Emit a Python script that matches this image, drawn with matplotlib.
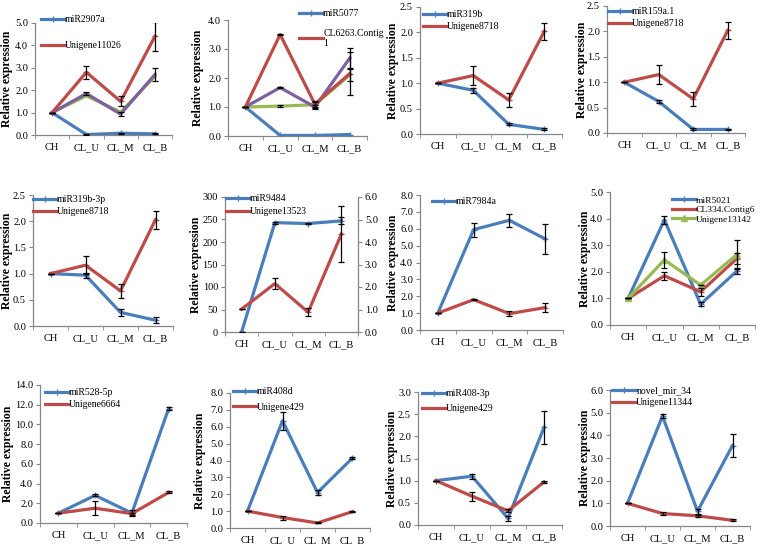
import matplotlib
matplotlib.use("Agg")
import matplotlib.pyplot as plt
import matplotlib.transforms as mtransforms
from matplotlib.ticker import FormatStrFormatter, FixedLocator

plt.rcParams['font.family'] = ['Liberation Serif', 'DejaVu Serif']

categories = ["CH", "CL_U", "CL_M", "CL_B"]

BLUE = "#4A7EBB"
RED = "#BE4B48"
GREEN = "#98B954"
PURPLE = "#7D60A0"

# Panel 1
p1_blue = [1.0, 0.02, 0.08, 0.05]
p1_blue_err = [0, 0.01, 0.02, 0.02]
p1_red = [1.0, 2.8, 1.5, 4.4]
p1_red_err = [0, 0.3, 0.22, 0.65]
p1_green = [1.0, 1.75, 1.02, 2.62]
p1_purple = [1.0, 1.85, 0.93, 2.7]
p1_purple_err = [0, 0.08, 0.08, 0.3]
# Panel 2
p2_blue = [1.0, 0.02, 0.02, 0.05]
p2_red = [1.0, 3.5, 1.1, 2.15]
p2_red_err = [0, 0.02, 0.1, 0.75]
p2_purple = [1.0, 1.67, 1.0, 2.68]
p2_purple_err = [0, 0.03, 0.08, 0.35]
p2_green = [1.0, 1.03, 1.08, 2.1]
p2_green_err = [0, 0.03, 0.1, 0.2]
# Panel 3
p3_blue = [1.0, 0.86, 0.19, 0.09]
p3_blue_err = [0, 0.05, 0.02, 0.02]
p3_red = [1.0, 1.15, 0.67, 2.02]
p3_red_err = [0, 0.18, 0.13, 0.17]
# Panel 4
p4_blue = [1.0, 0.62, 0.07, 0.07]
p4_blue_err = [0, 0.03, 0.02, 0.01]
p4_red = [1.0, 1.15, 0.67, 2.02]
p4_red_err = [0, 0.18, 0.13, 0.17]
# Panel 5
p5_blue = [1.0, 0.97, 0.26, 0.11]
p5_blue_err = [0, 0.05, 0.06, 0.06]
p5_red = [1.0, 1.16, 0.67, 2.03]
p5_red_err = [0, 0.17, 0.13, 0.17]
# Panel 6 (blue on left axis, red on right axis)
p6_blue = [0, 243, 241, 247]
p6_blue_err = [0, 2, 2, 8]
p6_red = [1.02, 2.15, 0.88, 4.35]
p6_red_err = [0, 0.25, 0.18, 1.25]
# Panel 7
p7_blue = [1.0, 5.95, 6.5, 5.4]
p7_blue_err = [0, 0.42, 0.37, 0.9]
p7_red = [1.0, 1.8, 0.97, 1.33]
p7_red_err = [0, 0.02, 0.15, 0.25]
# Panel 8
p8_blue = [1.0, 3.95, 0.78, 2.03]
p8_blue_err = [0, 0.15, 0.08, 0.1]
p8_red = [1.0, 1.85, 1.25, 2.5]
p8_red_err = [0, 0.15, 0.15, 0.2]
p8_green = [1.0, 2.45, 1.5, 2.65]
p8_green_err = [0, 0.3, 0.0, 0.55]
# Panel 9
p9_blue = [1.0, 2.8, 1.0, 11.6]
p9_blue_err = [0, 0.1, 0.3, 0.15]
p9_red = [1.0, 1.5, 0.95, 3.1]
p9_red_err = [0, 0.7, 0.1, 0.1]
# Panel 10
p10_blue = [1.0, 6.35, 2.1, 4.15]
p10_blue_err = [0, 0.55, 0.15, 0.05]
p10_red = [1.0, 0.62, 0.3, 0.97]
p10_red_err = [0, 0.12, 0.03, 0.05]
# Panel 11
p11_blue = [1.0, 1.1, 0.15, 2.2]
p11_blue_err = [0, 0.06, 0.06, 0.38]
p11_red = [1.0, 0.65, 0.32, 0.97]
p11_red_err = [0, 0.1, 0.03, 0.03]
# Panel 12
p12_blue = [1.0, 4.85, 0.65, 3.55]
p12_blue_err = [0, 0.1, 0.1, 0.5]
p12_red = [1.0, 0.55, 0.45, 0.25]
p12_red_err = [0, 0.06, 0.05, 0.05]

W, H = 760, 545
fig = plt.figure(figsize=(W / 100, H / 100), dpi=100)
xs = list(range(len(categories)))


def make_ax(left, right, top, bottom, ymax, ystep, label_x, fmt="%.1f"):
    ax = fig.add_axes([left / W, 1 - bottom / H, (right - left) / W, (bottom - top) / H])
    ax.set_xlim(-0.5, 3.5)
    ax.set_ylim(0, ymax)
    n = int(round(ymax / ystep))
    ax.yaxis.set_major_locator(FixedLocator([i * ystep for i in range(n + 1)]))
    ax.yaxis.set_major_formatter(FormatStrFormatter(fmt))
    ax.set_xticks(xs)
    ax.set_xticklabels(categories)
    ax.set_xticks([-0.5, 0.5, 1.5, 2.5, 3.5], minor=True)
    ax.tick_params(axis='x', which='major', length=0, pad=6, labelsize=7.5)
    ax.tick_params(axis='x', which='minor', length=3, direction='out', color='#868686')
    ax.tick_params(axis='y', length=3, direction='out', color='#868686', labelsize=7.5, pad=2)
    for s in ['top', 'right']:
        ax.spines[s].set_visible(False)
    for s in ['left', 'bottom']:
        ax.spines[s].set_color('#868686')
        ax.spines[s].set_linewidth(0.9)
    ax.set_ylabel("Relative expression", fontsize=8.5, fontweight='bold')
    tr = mtransforms.blended_transform_factory(fig.transFigure, ax.transAxes)
    ax.yaxis.set_label_coords((label_x + 6) / W, 0.5, transform=tr)
    ax.patch.set_alpha(0)
    return ax


def series(ax, y, err, color, label, marker):
    line, = ax.plot(xs, y, color=color, lw=2.3, marker=marker, ms=4, mew=1, label=label, zorder=3)
    if err is not None:
        ax.errorbar(xs, y, yerr=err, fmt='none', ecolor='black', elinewidth=0.9,
                    capsize=2.5, capthick=0.9, zorder=4)
    return line


def legend(handles, x_px, y_px, spacing=0.25, fs=7.0):
    fig.legend(handles=handles, loc='upper left',
               bbox_to_anchor=(x_px / W, 1 - y_px / H), bbox_transform=fig.transFigure,
               frameon=False, fontsize=fs, handlelength=2.5, handletextpad=0.0,
               borderpad=0, borderaxespad=0, labelspacing=spacing)


# Panel 1
ax = make_ax(35, 172, 23, 135, 5.0, 1.0, 7)
b = series(ax, p1_blue, p1_blue_err, BLUE, "miR2907a", '+')
series(ax, p1_green, None, GREEN, "_g", None)
series(ax, p1_purple, p1_purple_err, PURPLE, "_p", None)
r = series(ax, p1_red, p1_red_err, RED, "Unigene11026", '_')
legend([b, r], 41, 15, spacing=1.75)

# Panel 2
ax = make_ax(228, 367, 20, 136, 4.0, 1.0, 198)
b = series(ax, p2_blue, None, BLUE, "miR5077", '+')
series(ax, p2_green, p2_green_err, GREEN, "_g", None)
series(ax, p2_purple, p2_purple_err, PURPLE, "_p", None)
r = series(ax, p2_red, p2_red_err, RED, "CL6263.Contig\n1", '_')
legend([b, r], 299, 9, spacing=1.1)

# Panel 3
ax = make_ax(420, 562, 7, 134, 2.5, 0.5, 393)
b = series(ax, p3_blue, p3_blue_err, BLUE, "miR319b", '+')
r = series(ax, p3_red, p3_red_err, RED, "Unigene8718", '_')
legend([b, r], 423, 10, spacing=0.35)

# Panel 4
ax = make_ax(607, 745, 6, 133, 2.5, 0.5, 582)
b = series(ax, p4_blue, p4_blue_err, BLUE, "miR159a.1", '+')
r = series(ax, p4_red, p4_red_err, RED, "Unigene8718", '_')
legend([b, r], 608, 7, spacing=0.35)

# Panel 5
ax = make_ax(33, 173, 195, 326, 2.5, 0.5, 7)
b = series(ax, p5_blue, p5_blue_err, BLUE, "miR319b-3p", '+')
r = series(ax, p5_red, p5_red_err, RED, "Unigene8718", '_')
legend([b, r], 33, 195, spacing=0.35)

# Panel 6
ax = make_ax(225, 358, 197, 332, 300, 50, 196, fmt="%d")
ax2 = ax.twinx()
ax2.set_ylim(0, 6.0)
ax2.yaxis.set_major_locator(FixedLocator([0, 1, 2, 3, 4, 5, 6]))
ax2.yaxis.set_major_formatter(FormatStrFormatter("%.1f"))
ax2.tick_params(axis='y', length=3, direction='out', color='#868686', labelsize=7.5, pad=2)
for s in ['top', 'left', 'bottom']:
    ax2.spines[s].set_visible(False)
ax2.spines['right'].set_color('#868686')
ax2.spines['right'].set_linewidth(0.9)
b = series(ax, p6_blue, p6_blue_err, BLUE, "miR9484", '+')
r = series(ax2, p6_red, p6_red_err, RED, "Unigene13523", '_')
legend([b, r], 226, 194, spacing=0.45)

# Panel 7
ax = make_ax(420, 563, 195, 330, 8.0, 1.0, 393)
b = series(ax, p7_blue, p7_blue_err, BLUE, "miR7984a", '+')
series(ax, p7_red, p7_red_err, RED, "_r", '_')
legend([b], 432, 197)

# Panel 8
ax = make_ax(610, 755, 192, 325, 5.0, 1.0, 585)
b = series(ax, p8_blue, p8_blue_err, BLUE, "miR5021", '+')
r = series(ax, p8_red, p8_red_err, RED, "CL334.Contig6", '_')
g = series(ax, p8_green, p8_green_err, GREEN, "Unigene13142", '^')
legend([b, r, g], 672, 196, spacing=0.1, fs=6.8)

# Panel 9
ax = make_ax(40, 187, 385, 523, 14.0, 2.0, 8)
b = series(ax, p9_blue, p9_blue_err, BLUE, "miR528-5p", '+')
r = series(ax, p9_red, p9_red_err, RED, "Unigene6664", '_')
legend([b, r], 45, 388, spacing=0.35)

# Panel 10
ax = make_ax(230, 370, 393, 528, 8.0, 1.0, 200)
b = series(ax, p10_blue, p10_blue_err, BLUE, "miR408d", '+')
r = series(ax, p10_red, p10_red_err, RED, "Unigene429", '_')
legend([b, r], 233, 387, spacing=0.7)

# Panel 11
ax = make_ax(418, 562, 392, 525, 3.0, 0.5, 392)
b = series(ax, p11_blue, p11_blue_err, BLUE, "miR408-3p", '+')
r = series(ax, p11_red, p11_red_err, RED, "Unigene429", '_')
legend([b, r], 422, 389, spacing=0.65)

# Panel 12
ax = make_ax(610, 750, 390, 526, 6.0, 1.0, 585)
b = series(ax, p12_blue, p12_blue_err, BLUE, "novel_mir_34", '+')
r = series(ax, p12_red, p12_red_err, RED, "Unigene11344", '_')
legend([b, r], 612, 386, spacing=0.35)

fig.savefig("out.png", dpi=100)
